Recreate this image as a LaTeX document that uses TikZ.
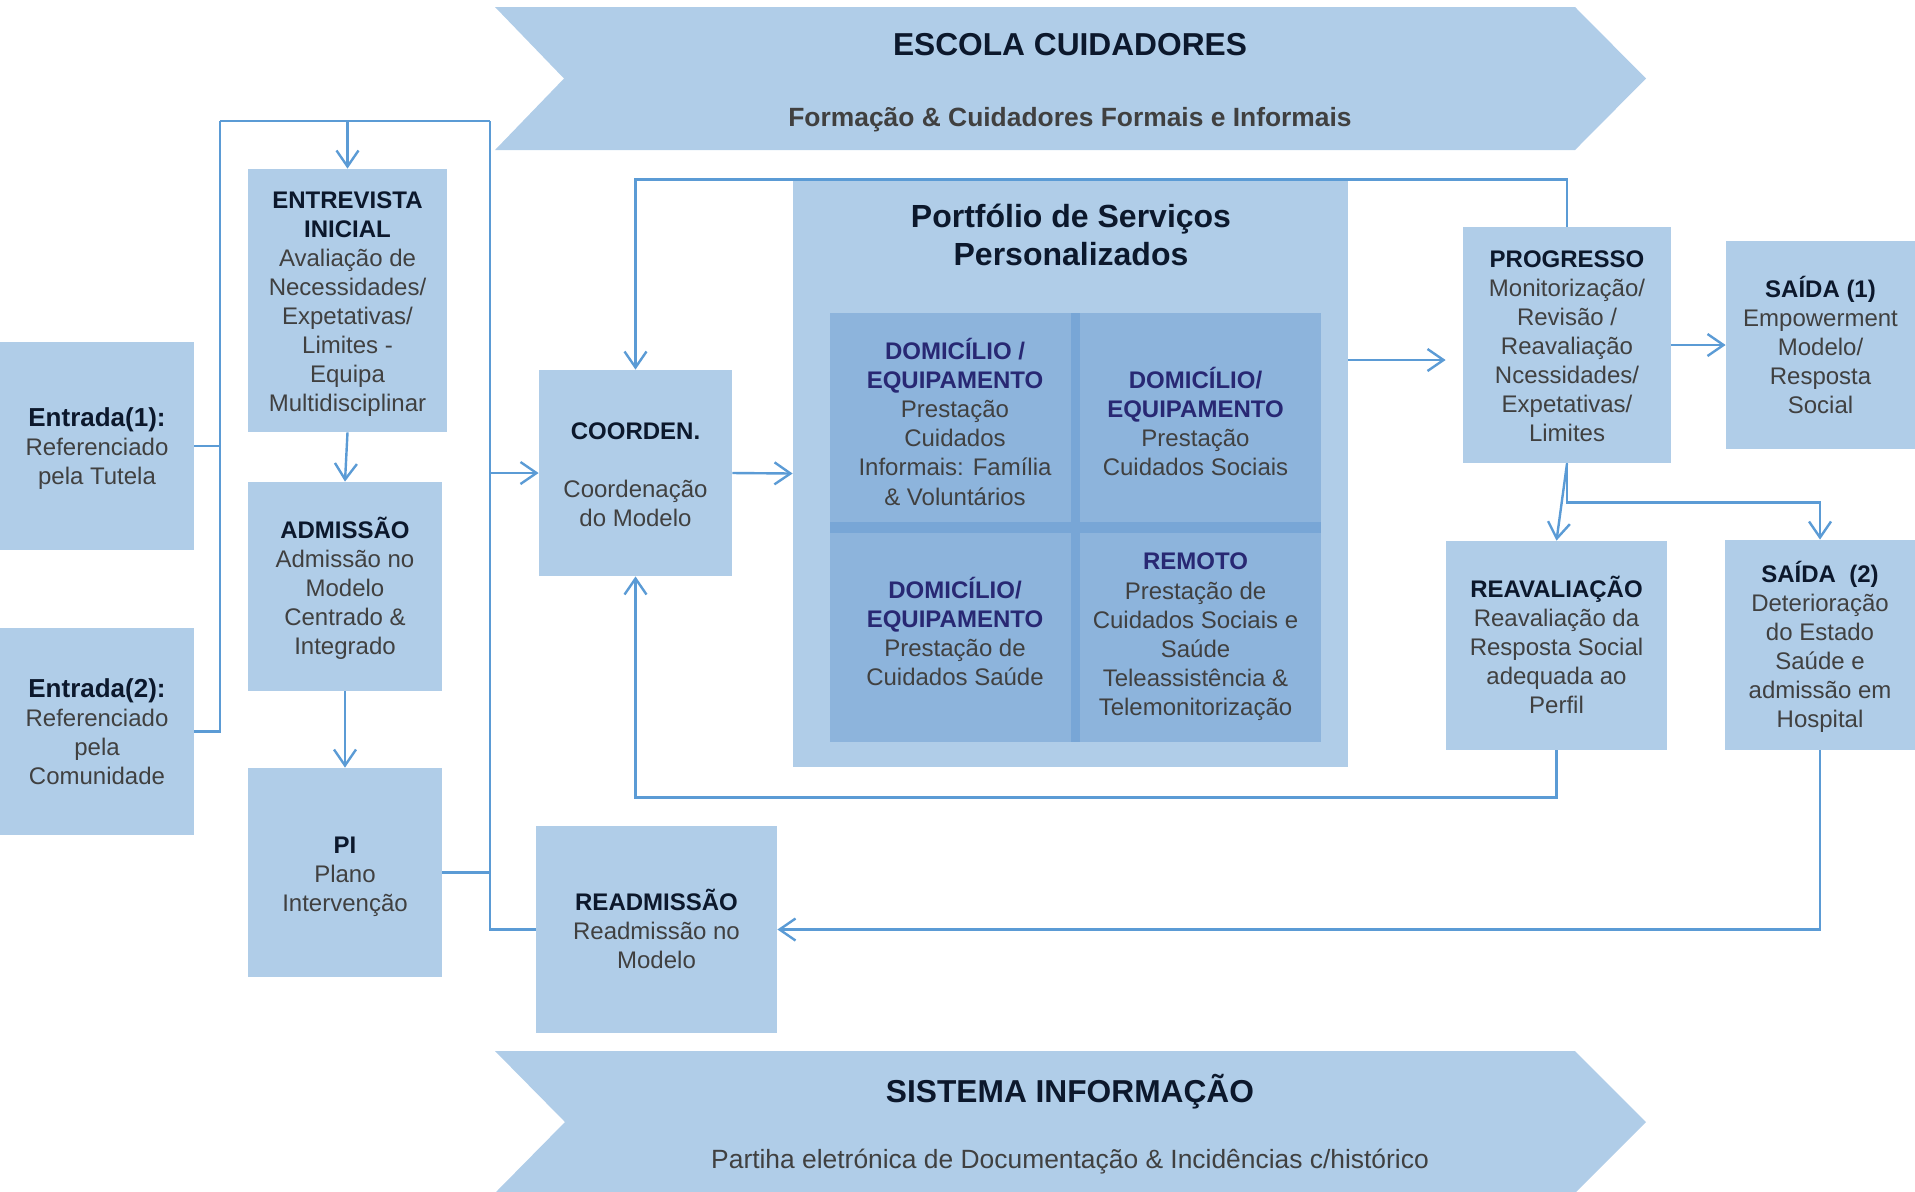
\documentclass[tikz,border=0pt]{standalone}
\usepackage{fontspec}
\setmainfont{Liberation Sans}
\usetikzlibrary{arrows.meta,calc}
\definecolor{boxblue}{RGB}{176,205,232}
\definecolor{cellblue}{RGB}{141,180,220}
\definecolor{divblue}{RGB}{120,166,214}
\definecolor{lineblue}{RGB}{91,155,213}
\definecolor{hdr}{RGB}{12,24,44}
\definecolor{bodytxt}{RGB}{64,64,64}
\definecolor{cellhdr}{RGB}{40,40,115}
\newcommand{\hd}[1]{{\bfseries\color{hdr}#1}}
\newcommand{\hdl}[1]{{\fontsize{13}{15}\selectfont\bfseries\color{hdr}#1}}
\newcommand{\ch}[1]{{\bfseries\color{cellhdr}#1}}
\newcommand{\bx}[1]{\raisebox{-2pt}[\height][\depth]{\begin{tabular}{@{}c@{}}#1\end{tabular}}}
\begin{document}
\begin{tikzpicture}[x=0.5pt,y=-0.5pt,
  box/.style={rectangle, fill=boxblue, inner sep=0pt, text=bodytxt, font=\fontsize{12}{14.5}\selectfont},
  celltext/.style={inner sep=0pt, align=center, text=bodytxt, font=\fontsize{12}{14.6}\selectfont},
  conn/.style={draw=lineblue, line width=1.2pt},
  arr/.style={conn, -{Straight Barb[length=8pt,width=11pt,line width=1.2pt]}},
  chev/.style={fill=boxblue},
]
\useasboundingbox (0,0) rectangle (1915,1191);
\clip (0,0) rectangle (1915,1191);

% chevrons
\path[chev] (495,7) -- (1575,7) -- (1646,78.5) -- (1575,150) -- (495,150) -- (564,78.5) -- cycle;
\node[font=\fontsize{15.85}{19}\selectfont\bfseries, text=hdr] (esc) at (1070,45) {ESCOLA CUIDADORES};
\node[font=\fontsize{13.2}{15}\selectfont\bfseries, text=bodytxt] (form) at (1070,120) {Formação \& Cuidadores Formais e Informais};

\path[chev] (495,1051) -- (1575,1051) -- (1646,1122) -- (1575,1193) -- (495,1193) -- (565,1122) -- cycle;
\node[font=\fontsize{15.85}{19}\selectfont\bfseries, text=hdr] (sis) at (1070,1092) {SISTEMA INFORMAÇÃO};
\node[font=\fontsize{13.2}{15}\selectfont, text=bodytxt] (part) at (1070,1162) {Partiha eletrónica de Documentação \& Incidências c/histórico};

% left column
\node[box, minimum width=97pt, minimum height=104pt] (e1) at (97,446) {\bx{\hdl{Entrada(1):}\\Referenciado\\pela Tutela}};
\node[box, minimum width=97pt, minimum height=103.5pt] (e2) at (97,731.5) {\bx{\hdl{Entrada(2):}\\Referenciado\\pela\\Comunidade}};

\node[box, minimum width=99.5pt, minimum height=131.5pt] (entr) at (347.5,300.5) {\bx{\hd{ENTREVISTA}\\\hd{INICIAL}\\Avaliação de\\Necessidades/\\Expetativas/\\Limites -\\Equipa\\Multidisciplinar}};
\node[box, minimum width=97pt, minimum height=104.5pt] (adm) at (345,586.5) {\bx{\hd{ADMISSÃO}\\Admissão no\\Modelo\\Centrado \&\\Integrado}};
\node[box, minimum width=97pt, minimum height=104.5pt] (pi) at (345,872.5) {\bx{\hd{PI}\\Plano\\Intervenção}};

\node[box, minimum width=96.5pt, minimum height=103pt] (coord) at (635.5,473) {\bx{\hd{COORDEN.}\\[14.5pt]Coordenação\\do Modelo}};
\node[box, minimum width=120.5pt, minimum height=103.5pt] (read) at (656.5,929.5) {\bx{\hd{READMISSÃO}\\Readmissão no\\Modelo}};

% portfolio
\node[box, minimum width=277.5pt, minimum height=293.5pt] (port) at (1070.5,473.5) {};
\node[font=\fontsize{16}{19}\selectfont\bfseries, text=hdr, align=center] (ptitle) at (1071,235) {Portfólio de Serviços\\Personalizados};
\fill[divblue] (830,313) rectangle (1321,742);
\fill[cellblue] (830,313) rectangle (1071,522);
\fill[cellblue] (1080,313) rectangle (1321,522);
\fill[cellblue] (830,533) rectangle (1071,742);
\fill[cellblue] (1080,533) rectangle (1321,742);
\node[celltext] (c1) at (955,421.5) {\ch{DOMICÍLIO /}\\\ch{EQUIPAMENTO}\\Prestação\\Cuidados\\Informais: Família\\\& Voluntários};
\node[celltext] (c2) at (1195.5,421.5) {\ch{DOMICÍLIO/}\\\ch{EQUIPAMENTO}\\Prestação\\Cuidados Sociais};
\node[celltext] (c3) at (955,631.5) {\ch{DOMICÍLIO/}\\\ch{EQUIPAMENTO}\\Prestação de\\Cuidados Saúde};
\node[celltext] (c4) at (1195.5,637) {\ch{REMOTO}\\Prestação de\\Cuidados Sociais e\\Saúde\\Teleassistência \&\\Telemonitorização};

% right side
\node[box, minimum width=104pt, minimum height=118pt] (prog) at (1567,345) {\bx{\hd{PROGRESSO}\\Monitorização/\\Revisão /\\Reavaliação\\Ncessidades/\\Expetativas/\\Limites}};
\node[box, minimum width=94.5pt, minimum height=104pt] (s1) at (1820.5,345) {\bx{\hd{SAÍDA (1)}\\Empowerment\\Modelo/\\Resposta\\Social}};
\node[box, minimum width=110.5pt, minimum height=104.5pt] (reav) at (1556.5,645.5) {\bx{\hd{REAVALIAÇÃO}\\Reavaliação da\\Resposta Social\\adequada ao\\Perfil}};
\node[box, minimum width=95pt, minimum height=105pt] (s2) at (1820,645) {\bx{\hd{SAÍDA\ \ (2)}\\Deterioração\\do Estado\\Saúde e\\admissão em\\Hospital}};

% connectors
\coordinate (LT) at (220,121);
\coordinate (RT) at (490,121);
\coordinate (pp) at (1400,360);
\draw[conn] (e1.east) -| (LT);
\draw[conn] (e2.east) -| (LT);
\draw[conn] (LT) -- (RT);
\draw[arr] (entr.north |- LT) -- (entr.north);
\draw[arr] (entr.south) -- (adm.north);
\draw[arr] (adm.south) -- (pi.north);
\draw[conn] (pi.east) -| (RT);
\draw[conn] (read.west) -| (RT);
\draw[arr] (RT |- coord.west) -- (coord.west);
\draw[arr] (coord.east) -- (port.west);
\draw[arr, shorten >=8.5pt] (port.east |- pp) -- (prog.west |- pp);
\draw[arr] (prog.east) -- (s1.west);
\draw[arr] (prog.south) -- (reav.north);
\draw[arr] (prog.south) -- ++(0,39) -| (s2.north);
\draw[arr] (prog.north) -- (prog.north |- port.north) -| (coord.north);
\draw[arr] (reav.south) -- ++(0,47) -| (coord.south);
\draw[arr] (s2.south) |- (read.east);
\end{tikzpicture}
\end{document}
